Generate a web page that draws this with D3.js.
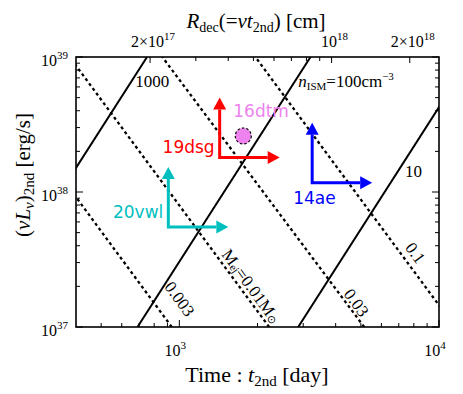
<!DOCTYPE html>
<html>
<head>
<meta charset="utf-8">
<script src="https://cdn.jsdelivr.net/npm/d3@7"></script>
<style>
  body { margin: 0; background: #fff; }
  svg { display: block; }
  .serif { font-family: "Liberation Serif", "Times New Roman", serif; }
  .sans { font-family: "DejaVu Sans", sans-serif; }
</style>
</head>
<body>
<svg id="chart" width="463" height="394"></svg>
<script>
// velocity used for the top axis, R = v t
const shockVelocity = 3e9; // cm/s

// solid lines: constant n_ISM, two end points [t (day), L (erg/s)]
const densityLabels = ["1000", "100", "10"];
const densityLines = [
    [[162, 1e37], [751, 1e39]],
    [[690, 1e37], [3200, 1e39]],
    [[2869, 1e37], [13300, 1e39]]
];

// dotted lines: constant M_ej
const massLabels = ["0.003", "0.01", "0.03", "0.1"];
const massLines = [
    [[935, 1e37], [160, 1e39]],
    [[2218, 1e37], [378, 1e39]],
    [[5152, 1e37], [860, 1e39]],
    [[11535, 1e37], [1963, 1e39]]
];

// supernovae (lower limits in t and L)
const snNames = ["19dsg", "14ae", "20vwl"];
const snTimes = [1430, 3248, 907];
const snLums = [1.8e38, 1.17e38, 5.5e37];
const snColors = ["#ff0000", "#0000ff", "#00bfbf"];

const dtmName = "16dtm";
const dtmTime = 1763;
const dtmLum = 2.6e38;

const xTicksMinor = [500, 600, 700, 800, 900, 2000, 3000, 4000, 5000, 6000, 7000, 8000, 9000];
const xTicksMajor = [1e3, 1e4];
const yTicksMinor = [2e37, 3e37, 4e37, 5e37, 6e37, 7e37, 8e37, 9e37, 2e38, 3e38, 4e38, 5e38, 6e38, 7e38, 8e38, 9e38];
const yTicksMajor = [1e37, 1e38, 1e39];
const rTicksMinor = [3e17, 4e17, 5e17, 6e17, 7e17, 8e17, 9e17];
const rTicksMajor = [2e17, 1e18, 2e18];

const margin = { top: 57, right: 24, bottom: 67, left: 76 };
const width = 463 - margin.left - margin.right;
const height = 394 - margin.top - margin.bottom;

const svg = d3.select("#chart");
const g = svg.append("g").attr("transform", `translate(${margin.left},${margin.top})`);

const x = d3.scaleLog().domain([400, 1e4]).range([0, width]);
const y = d3.scaleLog().domain([1e37, 1e39]).range([height, 0]);
const r = d3.scaleLog()
    .domain(x.domain().map(t => t * 86400 * shockVelocity))
    .range([0, width]);

g.append("clipPath").attr("id", "plot-clip")
    .append("rect").attr("width", width).attr("height", height);

const lines = g.append("g").attr("clip-path", "url(#plot-clip)");
const lineGen = d3.line().x(d => x(d[0])).y(d => y(d[1]));

lines.selectAll(".density")
    .data(densityLines)
    .join("path")
    .attr("fill", "none")
    .attr("stroke", "#000")
    .attr("stroke-width", 2)
    .attr("d", lineGen);

lines.selectAll(".mass")
    .data(massLines)
    .join("path")
    .attr("fill", "none")
    .attr("stroke", "#000")
    .attr("stroke-width", 2.3)
    .attr("stroke-dasharray", "3,3")
    .attr("d", lineGen);

// ticks
const tickGroup = g.append("g").attr("stroke", "#000").attr("stroke-width", 1);
const addTicks = (vals, len, side) => {
    tickGroup.selectAll(null)
        .data(vals)
        .join("line")
        .attr("x1", d => side === "bottom" ? x(d) : side === "top" ? r(d) : side === "left" ? 0 : width)
        .attr("x2", d => side === "bottom" ? x(d) : side === "top" ? r(d) : side === "left" ? len : width - len)
        .attr("y1", d => side === "bottom" ? height : side === "top" ? 0 : y(d))
        .attr("y2", d => side === "bottom" ? height - len : side === "top" ? len : y(d));
};
addTicks(xTicksMinor, 4, "bottom");
addTicks(xTicksMajor, 7, "bottom");
addTicks(yTicksMinor, 4, "left");
addTicks(yTicksMajor, 7, "left");
addTicks(yTicksMinor, 4, "right");
addTicks(yTicksMajor, 7, "right");
addTicks(rTicksMinor, 4, "top");
addTicks(rTicksMajor, 6, "top");

g.append("rect")
    .attr("width", width)
    .attr("height", height)
    .attr("fill", "none")
    .attr("stroke", "#000")
    .attr("stroke-width", 1.6);

// tick labels
const powerLabel = (sel, mant, exp) => {
    if (mant !== "1") sel.append("tspan").text(mant + "\u00d7");
    sel.append("tspan").text("10");
    sel.append("tspan").attr("font-size", 11).attr("dy", -7).text(exp);
};

xTicksMajor.forEach(v => {
    const t = g.append("text").attr("class", "serif").attr("font-size", 16)
        .attr("x", x(v) - 4).attr("y", height + 29).attr("text-anchor", "middle");
    powerLabel(t, "1", Math.round(Math.log10(v)));
});

yTicksMajor.forEach(v => {
    const t = g.append("text").attr("class", "serif").attr("font-size", 16)
        .attr("x", -8).attr("y", y(v) + 9).attr("text-anchor", "end");
    powerLabel(t, "1", Math.round(Math.log10(v)));
});

rTicksMajor.forEach(v => {
    const e = Math.floor(Math.log10(v));
    const m = Math.round(v / Math.pow(10, e));
    const t = g.append("text").attr("class", "serif").attr("font-size", 16)
        .attr("x", r(v) + 3).attr("y", -10).attr("text-anchor", "middle");
    powerLabel(t, String(m), e);
});

// axis titles
const topTitle = svg.append("text").attr("class", "serif").attr("font-size", 21)
    .attr("x", 256).attr("y", 28).attr("text-anchor", "middle");
topTitle.append("tspan").attr("font-style", "italic").text("R");
topTitle.append("tspan").attr("font-size", 14).attr("dy", 4).text("dec");
topTitle.append("tspan").attr("dy", -4).text("(=");
topTitle.append("tspan").attr("font-style", "italic").text("vt");
topTitle.append("tspan").attr("font-size", 14).attr("dy", 4).text("2nd");
topTitle.append("tspan").attr("dy", -4).text(") [cm]");

const bottomTitle = svg.append("text").attr("class", "serif").attr("font-size", 22)
    .attr("x", 257).attr("y", 382).attr("text-anchor", "middle");
bottomTitle.append("tspan").text("Time : ");
bottomTitle.append("tspan").attr("font-style", "italic").text("t");
bottomTitle.append("tspan").attr("font-size", 15).attr("dy", 4).text("2nd");
bottomTitle.append("tspan").attr("dy", -4).text(" [day]");

const leftTitle = svg.append("text").attr("class", "serif").attr("font-size", 21)
    .attr("transform", "translate(30,175) rotate(-90)").attr("text-anchor", "middle");
leftTitle.append("tspan").text("(");
leftTitle.append("tspan").attr("font-style", "italic").text("\u03bdL");
leftTitle.append("tspan").attr("font-style", "italic").attr("font-size", 15).attr("dy", 4).text("\u03bd");
leftTitle.append("tspan").attr("dy", -4).text(")");
leftTitle.append("tspan").attr("font-size", 15).attr("dy", 4).text("2nd");
leftTitle.append("tspan").attr("dy", -4).text(" [erg/s]");

// line labels
const lineText = (t, L, angle, anchor, size) => g.append("text").attr("class", "serif")
    .attr("font-size", size)
    .attr("text-anchor", anchor)
    .attr("dominant-baseline", angle ? "central" : "auto")
    .attr("transform", `translate(${x(t)},${y(L)}) rotate(${angle})`);

lineText(677, 6.0e38, 0, "start", 17).text(densityLabels[0]);
lineText(7392, 1.29e38, 0, "start", 17).text(densityLabels[2]);
const nLabel = lineText(2870, 6.0e38, 0, "start", 17);
nLabel.append("tspan").attr("font-style", "italic").text("n");
nLabel.append("tspan").attr("font-size", 11).attr("dy", 3).text("ISM");
nLabel.append("tspan").attr("dy", -3).text("=" + densityLabels[1] + "cm");
nLabel.append("tspan").attr("font-size", 11).attr("dy", -7).text("\u22123");

const massPos = [[1000, 1.61e37], [1892, 2.01e37], [4798, 1.51e37], [8090, 3.53e37]];
massLabels.forEach((lab, i) => {
    const t = lineText(massPos[i][0], massPos[i][1], 54, "middle", 17);
    if (lab === "0.01") {
        t.append("tspan").text("M");
        t.append("tspan").attr("font-size", 11).attr("dy", 3).text("ej");
        t.append("tspan").attr("dy", -3).text("=" + lab + "M");
        t.append("tspan").attr("font-size", 11).attr("dy", 3).text("\u2299");
    } else {
        t.text(lab);
    }
});

// arrows for lower limits
const armLen = 60, headLen = 12, headHalf = 6.5;
snNames.forEach((name, i) => {
    const cx = x(snTimes[i]), cy = y(snLums[i]);
    const a = g.append("g").attr("fill", snColors[i]).attr("stroke", snColors[i]);
    a.append("path")
        .attr("fill", "none")
        .attr("stroke-width", 3)
        .attr("d", `M${cx},${cy - armLen + headLen}V${cy}H${cx + armLen - headLen}`);
    a.append("path").attr("stroke", "none")
        .attr("d", `M${cx},${cy - armLen}L${cx - headHalf},${cy - armLen + headLen}L${cx + headHalf},${cy - armLen + headLen}Z`);
    a.append("path").attr("stroke", "none")
        .attr("d", `M${cx + armLen},${cy}L${cx + armLen - headLen},${cy - headHalf}L${cx + armLen - headLen},${cy + headHalf}Z`);
});

const snLabel = (i, dx, dy, anchor) => g.append("text").attr("class", "sans")
    .attr("font-size", 17)
    .attr("fill", snColors[i])
    .attr("text-anchor", anchor)
    .attr("x", x(snTimes[i]) + dx)
    .attr("y", y(snLums[i]) + dy)
    .text(snNames[i]);
snLabel(0, -5, -5, "end");
snLabel(1, -19, 21, "start");
snLabel(2, -5, -9, "end");

g.append("circle")
    .attr("cx", x(dtmTime)).attr("cy", y(dtmLum)).attr("r", 8)
    .attr("fill", "#ee82ee")
    .attr("stroke", "#000")
    .attr("stroke-width", 1.2)
    .attr("stroke-dasharray", "2.5,2");
g.append("text").attr("class", "sans").attr("font-size", 17)
    .attr("fill", "#ee82ee")
    .attr("x", x(dtmTime) - 10).attr("y", y(dtmLum) - 19)
    .text(dtmName);
</script>
</body>
</html>
